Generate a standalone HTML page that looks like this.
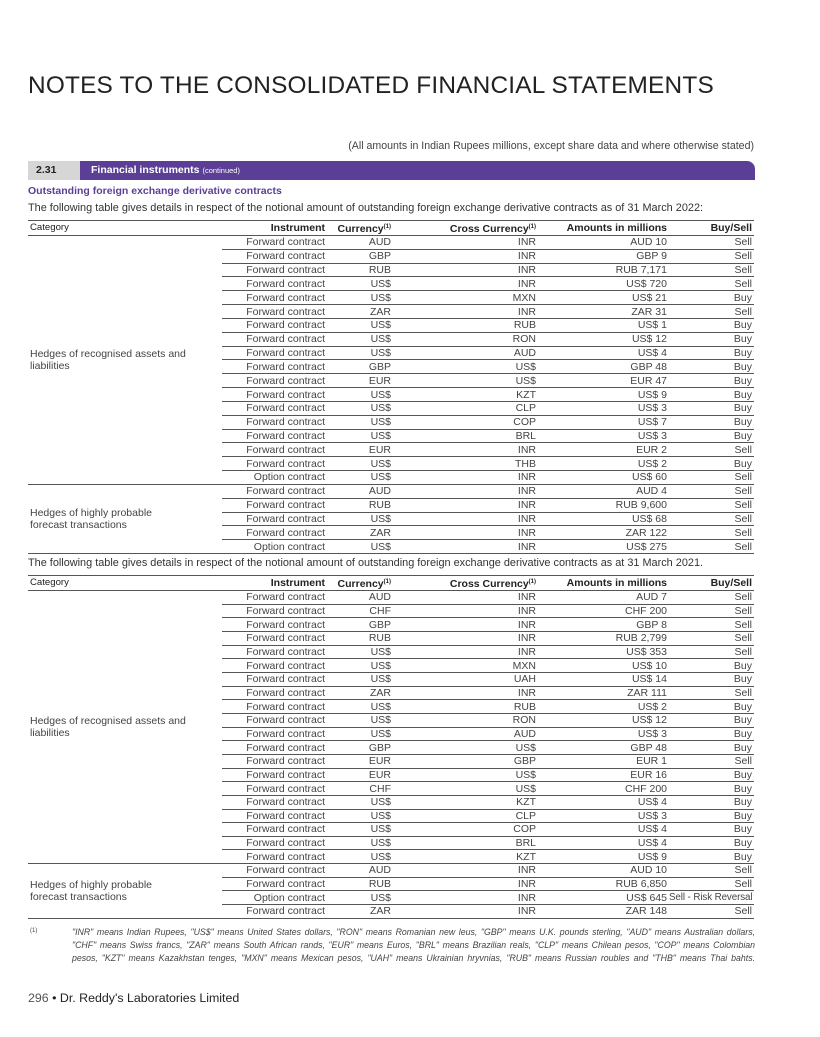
<!DOCTYPE html>
<html><head><meta charset="utf-8"><style>
body{margin:0;background:#fff;font-family:"Liberation Sans",sans-serif;color:#333}
.pg{position:relative;width:820px;height:1037px;overflow:hidden}
.a{position:absolute;white-space:nowrap}
h1{position:absolute;left:28px;top:72px;margin:0;font-weight:normal;font-size:24.4px;letter-spacing:0.2px;color:#222}
table{position:absolute;left:28px;width:726px;border-collapse:collapse;font-size:10.5px;table-layout:fixed}
td,th{padding:0 2px 0 0;text-align:right;border-bottom:1px solid #555;white-space:nowrap;overflow:visible;line-height:12px}
th{font-weight:bold;color:#222;border-top:1.5px solid #555}
th.c,td.c{text-align:left;padding-left:2px}
th.c{font-weight:normal;font-size:9.6px}
td.c{color:#444;line-height:12px;vertical-align:middle}
td{color:#444}
sup{font-size:6px;vertical-align:4px}
.fn{position:absolute;left:72px;width:683px;font-size:8.75px;font-style:italic;color:#444;text-align:justify;text-align-last:justify;white-space:nowrap}
</style></head><body><div class="pg">
<h1>NOTES TO THE CONSOLIDATED FINANCIAL STATEMENTS</h1>
<div class="a" style="right:66px;top:140px;font-size:10.6px;color:#444">(All amounts in Indian Rupees millions, except share data and where otherwise stated)</div>
<div class="a" style="left:28px;top:161px;width:52px;height:19px;background:#d6d6d6"></div>
<div class="a" style="left:36px;top:164px;font-size:10.5px;font-weight:bold;color:#222">2.31</div>
<div class="a" style="left:80px;top:161px;width:675px;height:19px;background:#5b3f96;border-top-right-radius:8px"></div>
<div class="a" style="left:91px;top:164px;font-size:10.5px;font-weight:bold;color:#fff">Financial instruments <span style="font-weight:normal;font-size:7.5px">(continued)</span></div>
<div class="a" style="left:28px;top:185px;font-size:10.5px;font-weight:bold;color:#5b3f96">Outstanding foreign exchange derivative contracts</div>
<div class="a" style="left:28px;top:202px;font-size:10.9px;color:#333">The following table gives details in respect of the notional amount of outstanding foreign exchange derivative contracts as of 31 March 2022:</div>

<table style="top:220px">
<colgroup><col style="width:194px"><col style="width:105px"><col style="width:66px"><col style="width:145px"><col style="width:131px"><col style="width:85px"></colgroup>
<tr style="height:14.5px"><th class="c">Category</th><th>Instrument</th><th>Currency<sup>(1)</sup></th><th>Cross Currency<sup>(1)</sup></th><th>Amounts in millions</th><th>Buy/Sell</th></tr>
<tr style="height:13.83px"><td class="c" rowspan="18">Hedges of recognised assets and<br>liabilities</td><td>Forward contract</td><td>AUD</td><td>INR</td><td>AUD 10</td><td>Sell</td></tr>
<tr style="height:13.83px"><td>Forward contract</td><td>GBP</td><td>INR</td><td>GBP 9</td><td>Sell</td></tr>
<tr style="height:13.83px"><td>Forward contract</td><td>RUB</td><td>INR</td><td>RUB 7,171</td><td>Sell</td></tr>
<tr style="height:13.83px"><td>Forward contract</td><td>US$</td><td>INR</td><td>US$ 720</td><td>Sell</td></tr>
<tr style="height:13.83px"><td>Forward contract</td><td>US$</td><td>MXN</td><td>US$ 21</td><td>Buy</td></tr>
<tr style="height:13.83px"><td>Forward contract</td><td>ZAR</td><td>INR</td><td>ZAR 31</td><td>Sell</td></tr>
<tr style="height:13.83px"><td>Forward contract</td><td>US$</td><td>RUB</td><td>US$ 1</td><td>Buy</td></tr>
<tr style="height:13.83px"><td>Forward contract</td><td>US$</td><td>RON</td><td>US$ 12</td><td>Buy</td></tr>
<tr style="height:13.83px"><td>Forward contract</td><td>US$</td><td>AUD</td><td>US$ 4</td><td>Buy</td></tr>
<tr style="height:13.83px"><td>Forward contract</td><td>GBP</td><td>US$</td><td>GBP 48</td><td>Buy</td></tr>
<tr style="height:13.83px"><td>Forward contract</td><td>EUR</td><td>US$</td><td>EUR 47</td><td>Buy</td></tr>
<tr style="height:13.83px"><td>Forward contract</td><td>US$</td><td>KZT</td><td>US$ 9</td><td>Buy</td></tr>
<tr style="height:13.83px"><td>Forward contract</td><td>US$</td><td>CLP</td><td>US$ 3</td><td>Buy</td></tr>
<tr style="height:13.83px"><td>Forward contract</td><td>US$</td><td>COP</td><td>US$ 7</td><td>Buy</td></tr>
<tr style="height:13.83px"><td>Forward contract</td><td>US$</td><td>BRL</td><td>US$ 3</td><td>Buy</td></tr>
<tr style="height:13.83px"><td>Forward contract</td><td>EUR</td><td>INR</td><td>EUR 2</td><td>Sell</td></tr>
<tr style="height:13.83px"><td>Forward contract</td><td>US$</td><td>THB</td><td>US$ 2</td><td>Buy</td></tr>
<tr style="height:13.83px"><td>Option contract</td><td>US$</td><td>INR</td><td>US$ 60</td><td>Sell</td></tr>
<tr style="height:13.83px"><td class="c" rowspan="5">Hedges of highly probable<br>forecast transactions</td><td>Forward contract</td><td>AUD</td><td>INR</td><td>AUD 4</td><td>Sell</td></tr>
<tr style="height:13.83px"><td>Forward contract</td><td>RUB</td><td>INR</td><td>RUB 9,600</td><td>Sell</td></tr>
<tr style="height:13.83px"><td>Forward contract</td><td>US$</td><td>INR</td><td>US$ 68</td><td>Sell</td></tr>
<tr style="height:13.83px"><td>Forward contract</td><td>ZAR</td><td>INR</td><td>ZAR 122</td><td>Sell</td></tr>
<tr style="height:13.83px"><td>Option contract</td><td>US$</td><td>INR</td><td>US$ 275</td><td>Sell</td></tr>
</table>

<div class="a" style="left:28px;top:557px;font-size:10.9px;color:#333">The following table gives details in respect of the notional amount of outstanding foreign exchange derivative contracts as at 31 March 2021.</div>

<table style="top:575px">
<colgroup><col style="width:194px"><col style="width:105px"><col style="width:66px"><col style="width:145px"><col style="width:131px"><col style="width:85px"></colgroup>
<tr style="height:14.5px"><th class="c">Category</th><th>Instrument</th><th>Currency<sup>(1)</sup></th><th>Cross Currency<sup>(1)</sup></th><th>Amounts in millions</th><th>Buy/Sell</th></tr>
<tr style="height:13.67px"><td class="c" rowspan="20">Hedges of recognised assets and<br>liabilities</td><td>Forward contract</td><td>AUD</td><td>INR</td><td>AUD 7</td><td>Sell</td></tr>
<tr style="height:13.67px"><td>Forward contract</td><td>CHF</td><td>INR</td><td>CHF 200</td><td>Sell</td></tr>
<tr style="height:13.67px"><td>Forward contract</td><td>GBP</td><td>INR</td><td>GBP 8</td><td>Sell</td></tr>
<tr style="height:13.67px"><td>Forward contract</td><td>RUB</td><td>INR</td><td>RUB 2,799</td><td>Sell</td></tr>
<tr style="height:13.67px"><td>Forward contract</td><td>US$</td><td>INR</td><td>US$ 353</td><td>Sell</td></tr>
<tr style="height:13.67px"><td>Forward contract</td><td>US$</td><td>MXN</td><td>US$ 10</td><td>Buy</td></tr>
<tr style="height:13.67px"><td>Forward contract</td><td>US$</td><td>UAH</td><td>US$ 14</td><td>Buy</td></tr>
<tr style="height:13.67px"><td>Forward contract</td><td>ZAR</td><td>INR</td><td>ZAR 111</td><td>Sell</td></tr>
<tr style="height:13.67px"><td>Forward contract</td><td>US$</td><td>RUB</td><td>US$ 2</td><td>Buy</td></tr>
<tr style="height:13.67px"><td>Forward contract</td><td>US$</td><td>RON</td><td>US$ 12</td><td>Buy</td></tr>
<tr style="height:13.67px"><td>Forward contract</td><td>US$</td><td>AUD</td><td>US$ 3</td><td>Buy</td></tr>
<tr style="height:13.67px"><td>Forward contract</td><td>GBP</td><td>US$</td><td>GBP 48</td><td>Buy</td></tr>
<tr style="height:13.67px"><td>Forward contract</td><td>EUR</td><td>GBP</td><td>EUR 1</td><td>Sell</td></tr>
<tr style="height:13.67px"><td>Forward contract</td><td>EUR</td><td>US$</td><td>EUR 16</td><td>Buy</td></tr>
<tr style="height:13.67px"><td>Forward contract</td><td>CHF</td><td>US$</td><td>CHF 200</td><td>Buy</td></tr>
<tr style="height:13.67px"><td>Forward contract</td><td>US$</td><td>KZT</td><td>US$ 4</td><td>Buy</td></tr>
<tr style="height:13.67px"><td>Forward contract</td><td>US$</td><td>CLP</td><td>US$ 3</td><td>Buy</td></tr>
<tr style="height:13.67px"><td>Forward contract</td><td>US$</td><td>COP</td><td>US$ 4</td><td>Buy</td></tr>
<tr style="height:13.67px"><td>Forward contract</td><td>US$</td><td>BRL</td><td>US$ 4</td><td>Buy</td></tr>
<tr style="height:13.67px"><td>Forward contract</td><td>US$</td><td>KZT</td><td>US$ 9</td><td>Buy</td></tr>
<tr style="height:13.67px"><td class="c" rowspan="4">Hedges of highly probable<br>forecast transactions</td><td>Forward contract</td><td>AUD</td><td>INR</td><td>AUD 10</td><td>Sell</td></tr>
<tr style="height:13.67px"><td>Forward contract</td><td>RUB</td><td>INR</td><td>RUB 6,850</td><td>Sell</td></tr>
<tr style="height:13.67px"><td>Option contract</td><td>US$</td><td>INR</td><td>US$ 645</td><td style="font-size:9.8px;letter-spacing:-0.1px">Sell - Risk Reversal</td></tr>
<tr style="height:13.67px"><td>Forward contract</td><td>ZAR</td><td>INR</td><td>ZAR 148</td><td>Sell</td></tr>
</table>

<div class="a" style="left:30px;top:928px;font-size:6px;color:#444">(1)</div>
<div class="fn" style="top:927px">"INR" means Indian Rupees, "US$" means United States dollars, "RON" means Romanian new leus, "GBP" means U.K. pounds sterling, "AUD" means Australian dollars,</div>
<div class="fn" style="top:940px">"CHF" means Swiss francs, "ZAR" means South African rands, "EUR" means Euros, "BRL" means Brazilian reals, "CLP" means Chilean pesos, "COP" means Colombian</div>
<div class="fn" style="top:953px">pesos, "KZT" means Kazakhstan tenges, "MXN" means Mexican pesos, "UAH" means Ukrainian hryvnias, "RUB" means Russian roubles and "THB" means Thai bahts.</div>
<div class="a" style="left:28px;top:991px;font-size:12.4px;color:#222"><span style="color:#555">296</span> &#8226; Dr. Reddy's Laboratories Limited</div>
</div></body></html>
